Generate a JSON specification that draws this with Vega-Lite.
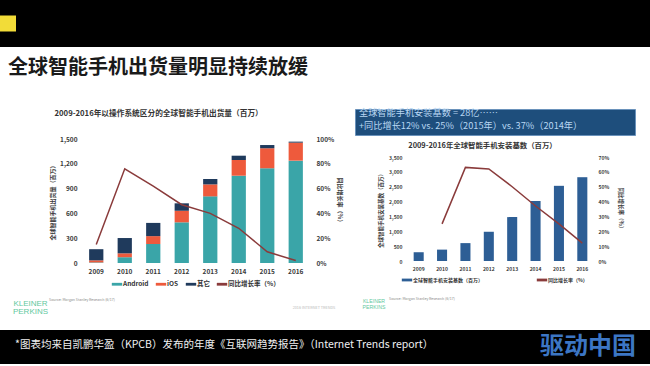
{
  "$schema": "https://vega.github.io/schema/vega-lite/v6.json",
  "background": "white",
  "padding": 0,
  "spacing": 14,
  "config": {
    "font": "Noto Sans CJK SC",
    "view": {"stroke": null},
    "axis": {"grid": false, "domain": false, "ticks": false, "labelFontWeight": "bold", "labelColor": "#3a3a3a", "titleColor": "#3a3a3a", "titleFontWeight": "bold"},
    "legend": {"orient": "bottom", "direction": "horizontal", "title": null, "labelFontSize": 6.5, "labelFontWeight": "bold", "labelColor": "#333333", "symbolType": "M-1.3,-0.35H1.3V0.35H-1.3Z", "symbolSize": 64, "symbolStrokeWidth": 0, "offset": 5, "padding": 0, "labelOffset": 2, "layout": {"bottom": {"anchor": "middle"}}}
  },
  "resolve": {"scale": {"color": "independent"}},
  "datasets": {
    "shipments": [
      {"year": "2009", "os": "Android", "units": 7}, {"year": "2009", "os": "iOS", "units": 25}, {"year": "2009", "os": "其它", "units": 135},
      {"year": "2010", "os": "Android", "units": 70}, {"year": "2010", "os": "iOS", "units": 47}, {"year": "2010", "os": "其它", "units": 185},
      {"year": "2011", "os": "Android", "units": 230}, {"year": "2011", "os": "iOS", "units": 95}, {"year": "2011", "os": "其它", "units": 160},
      {"year": "2012", "os": "Android", "units": 492}, {"year": "2012", "os": "iOS", "units": 140}, {"year": "2012", "os": "其它", "units": 90},
      {"year": "2013", "os": "Android", "units": 806}, {"year": "2013", "os": "iOS", "units": 145}, {"year": "2013", "os": "其它", "units": 65},
      {"year": "2014", "os": "Android", "units": 1056}, {"year": "2014", "os": "iOS", "units": 190}, {"year": "2014", "os": "其它", "units": 52},
      {"year": "2015", "os": "Android", "units": 1146}, {"year": "2015", "os": "iOS", "units": 242}, {"year": "2015", "os": "其它", "units": 39},
      {"year": "2016", "os": "Android", "units": 1238}, {"year": "2016", "os": "iOS", "units": 218}, {"year": "2016", "os": "其它", "units": 12}
    ],
    "shipGrowth": [
      {"year": "2009", "rate": 0.15}, {"year": "2010", "rate": 0.76}, {"year": "2011", "rate": 0.62}, {"year": "2012", "rate": 0.47},
      {"year": "2013", "rate": 0.40}, {"year": "2014", "rate": 0.28}, {"year": "2015", "rate": 0.09}, {"year": "2016", "rate": 0.02}
    ],
    "installed": [
      {"year": "2009", "base": 295}, {"year": "2010", "base": 383}, {"year": "2011", "base": 602}, {"year": "2012", "base": 984},
      {"year": "2013", "base": 1477}, {"year": "2014", "base": 2023}, {"year": "2015", "base": 2530}, {"year": "2016", "base": 2820}
    ],
    "installGrowth": [
      {"year": "2010", "rate": 0.25}, {"year": "2011", "rate": 0.63}, {"year": "2012", "rate": 0.62},
      {"year": "2013", "rate": 0.50}, {"year": "2014", "rate": 0.37}, {"year": "2015", "rate": 0.25}, {"year": "2016", "rate": 0.12}
    ]
  },
  "vconcat": [
    {
      "spacing": 10,
      "resolve": {"scale": {"color": "independent"}},
      "vconcat": [
        {
          "spacing": 0,
          "hconcat": [
            {
              "width": 16, "height": 47,
              "view": {"fill": "#000000", "stroke": null},
              "data": {"values": [{"item": "badge"}]},
              "mark": {"type": "point", "shape": "square", "filled": true, "size": 256, "color": "#f2dc38", "opacity": 1},
              "encoding": {}
            },
            {
              "width": 634, "height": 47,
              "view": {"fill": "#000000", "stroke": null},
              "data": {"values": [{"item": "band"}]},
              "mark": {"type": "rect", "opacity": 0},
              "encoding": {}
            }
          ]
        },
        {
          "spacing": 6,
          "resolve": {"scale": {"color": "independent"}},
          "vconcat": [
            {
              "title": {"text": "全球智能手机出货量明显持续放缓", "anchor": "start", "dx": 8, "fontSize": 20, "fontWeight": "bold", "color": "#1a1a1a", "offset": 31},
              "spacing": 11,
              "resolve": {"scale": {"color": "independent"}},
              "hconcat": [
                {
                  "width": 38, "height": 20,
                  "data": {"values": [{"item": "spacer"}]},
                  "mark": {"type": "rect", "opacity": 0},
                  "encoding": {}
                },
                {
                  "spacing": 0,
                  "vconcat": [
                    {
                      "width": 20, "height": 1,
                      "data": {"values": [{"item": "gap"}]},
                      "mark": {"type": "rect", "opacity": 0},
                      "encoding": {}
                    },
                    {
                      "width": 228, "height": 124,
                      "title": {"text": "2009-2016年以操作系统区分的全球智能手机出货量（百万）", "anchor": "start", "dx": 5, "fontSize": 7.7, "fontWeight": "bold", "color": "#333333", "offset": 18},
                      "layer": [
                        {
                          "data": {"name": "shipments"},
                          "mark": {"type": "bar"},
                          "encoding": {
                            "x": {"field": "year", "type": "ordinal", "scale": {"paddingInner": 0.5, "paddingOuter": 0.25}, "axis": {"title": null, "labelAngle": 0, "labelFontSize": 6.5, "labelPadding": 5}},
                            "y": {"field": "units", "type": "quantitative", "stack": "zero", "scale": {"domain": [0, 1500]}, "axis": {"title": "全球智能手机出货量（百万）", "values": [0, 300, 600, 900, 1200, 1500], "format": ",d", "labelFontSize": 6.5, "labelPadding": 5, "titleFontSize": 6, "titlePadding": 4}},
                            "color": {"field": "os", "type": "nominal", "scale": {"domain": ["Android", "iOS", "其它", "同比增长率（%）"], "range": ["#3aa5a8", "#ee5a3c", "#1f3a5c", "#8a3b3b"]}, "legend": {"columnPadding": 6}},
                            "order": {"field": "os", "sort": "ascending"}
                          }
                        },
                        {
                          "data": {"name": "shipGrowth"},
                          "mark": {"type": "line", "strokeWidth": 1.5},
                          "encoding": {
                            "x": {"field": "year", "type": "ordinal"},
                            "y": {"field": "rate", "type": "quantitative", "scale": {"domain": [0, 1]}, "axis": {"orient": "right", "title": "同比增长率（%）", "values": [0, 0.2, 0.4, 0.6, 0.8, 1], "format": ".0%", "labelFontSize": 6.5, "labelPadding": 6, "titleFontSize": 6, "titlePadding": 3}},
                            "color": {"datum": "同比增长率（%）"}
                          }
                        }
                      ],
                      "resolve": {"scale": {"y": "independent"}}
                    }
                  ]
                },
                {
                  "spacing": 5,
                  "vconcat": [
                    {
                      "width": 280, "height": 26,
                      "view": {"fill": "#1e4e7c", "stroke": "#6a92bb", "strokeWidth": 1},
                      "title": {"text": ["全球智能手机安装基数 = 28亿……", "+同比增长12% vs. 25%（2015年）vs. 37%（2014年）"], "orient": "bottom", "anchor": "start", "dx": 4, "offset": -26, "fontSize": 9.2, "fontWeight": "normal", "color": "#b8d6f2", "lineHeight": 12.5},
                      "data": {"values": [{"item": "box"}]},
                      "mark": {"type": "rect", "opacity": 0},
                      "encoding": {}
                    },
                    {
                      "spacing": 14,
                      "hconcat": [
                        {
                          "width": 9, "height": 20,
                          "data": {"values": [{"item": "spacer"}]},
                          "mark": {"type": "rect", "opacity": 0},
                          "encoding": {}
                        },
                        {
                          "width": 187, "height": 104,
                          "title": {"text": "2009-2016年全球智能手机安装基数（百万）", "fontSize": 7.4, "fontWeight": "bold", "color": "#333333", "dx": -18, "offset": 6},
                          "layer": [
                            {
                              "data": {"name": "installed"},
                              "mark": {"type": "bar"},
                              "encoding": {
                                "x": {"field": "year", "type": "ordinal", "scale": {"paddingInner": 0.57, "paddingOuter": 0.285}, "axis": {"title": null, "labelAngle": 0, "labelFontSize": 5, "labelPadding": 5}},
                                "y": {"field": "base", "type": "quantitative", "scale": {"domain": [0, 3500]}, "axis": {"title": "全球智能手机安装基数（百万）", "values": [0, 500, 1000, 1500, 2000, 2500, 3000, 3500], "format": ",d", "labelFontSize": 5, "labelPadding": 5, "titleFontSize": 5.5, "titlePadding": 5}},
                                "color": {"datum": "全球智能手机安装基数（百万）", "scale": {"domain": ["全球智能手机安装基数（百万）", "同比增长率（%）"], "range": ["#2d5e95", "#8a3b3b"]}, "legend": {"columnPadding": 52, "labelFontSize": 5}}
                              }
                            },
                            {
                              "data": {"name": "installGrowth"},
                              "mark": {"type": "line", "strokeWidth": 1.5},
                              "encoding": {
                                "x": {"field": "year", "type": "ordinal"},
                                "y": {"field": "rate", "type": "quantitative", "scale": {"domain": [0, 0.7]}, "axis": {"orient": "right", "title": "同比增长率（%）", "values": [0, 0.1, 0.2, 0.3, 0.4, 0.5, 0.6, 0.7], "format": ".0%", "labelFontSize": 5, "labelPadding": 4, "titleFontSize": 5.5, "titlePadding": 9}},
                                "color": {"datum": "同比增长率（%）"}
                              }
                            }
                          ],
                          "resolve": {"scale": {"y": "independent"}}
                        }
                      ]
                    }
                  ]
                }
              ]
            },
            {
              "spacing": 0,
              "hconcat": [
                {
                  "width": 49, "height": 20,
                  "data": {"values": [{"t": "KLEINER\nPERKINS"}]},
                  "mark": {"type": "text", "lineBreak": "\n", "fontSize": 8, "lineHeight": 7.5, "font": "Liberation Sans", "color": "#5fc8a0", "dx": 6},
                  "encoding": {"text": {"field": "t", "type": "nominal"}}
                },
                {
                  "width": 66, "height": 20,
                  "data": {"values": [{"t": "Source: Morgan Stanley Research (6/17)"}]},
                  "mark": {"type": "text", "fontSize": 3.6, "color": "#8a8a8a", "dy": -4},
                  "encoding": {"text": {"field": "t", "type": "nominal"}}
                },
                {
                  "width": 172, "height": 20,
                  "data": {"values": [{"item": "blank"}]},
                  "mark": {"type": "rect", "opacity": 0},
                  "encoding": {}
                },
                {
                  "width": 54, "height": 20,
                  "data": {"values": [{"t": "2016 INTERNET TRENDS"}]},
                  "mark": {"type": "text", "fontSize": 3.8, "color": "#b8b8b8", "dy": 4},
                  "encoding": {"text": {"field": "t", "type": "nominal"}}
                },
                {
                  "width": 21, "height": 20,
                  "data": {"values": [{"item": "blank"}]},
                  "mark": {"type": "rect", "opacity": 0},
                  "encoding": {}
                },
                {
                  "width": 22, "height": 20,
                  "data": {"values": [{"t": "KLEINER\nPERKINS"}]},
                  "mark": {"type": "text", "lineBreak": "\n", "fontSize": 5.2, "lineHeight": 6, "font": "Liberation Sans", "color": "#5fc8a0", "dy": -3},
                  "encoding": {"text": {"field": "t", "type": "nominal"}}
                },
                {
                  "width": 6, "height": 20,
                  "data": {"values": [{"t": "Source: Morgan Stanley Research (6/17)"}]},
                  "mark": {"type": "text", "fontSize": 3.6, "color": "#8a8a8a", "dy": -5, "align": "left"},
                  "encoding": {"text": {"field": "t", "type": "nominal"}}
                }
              ]
            }
          ]
        }
      ]
    },
    {
      "spacing": 0,
      "hconcat": [
        {
          "width": 526, "height": 34,
          "view": {"fill": "#000000", "stroke": null},
          "title": {"text": "*图表均来自凯鹏华盈（KPCB）发布的年度《互联网趋势报告》（Internet Trends report）", "orient": "bottom", "anchor": "start", "dx": 15, "offset": -24, "fontSize": 10.5, "fontWeight": "normal", "color": "#f0f0f0"},
          "data": {"values": [{"item": "footer"}]},
          "mark": {"type": "rect", "opacity": 0},
          "encoding": {}
        },
        {
          "width": 124, "height": 34,
          "view": {"fill": "#000000", "stroke": null},
          "data": {"values": [{"name": "驱动中国"}]},
          "mark": {"type": "text", "fontSize": 24, "fontWeight": "bold", "color": "#3c76c4"},
          "encoding": {"text": {"field": "name", "type": "nominal"}}
        }
      ]
    }
  ]
}
